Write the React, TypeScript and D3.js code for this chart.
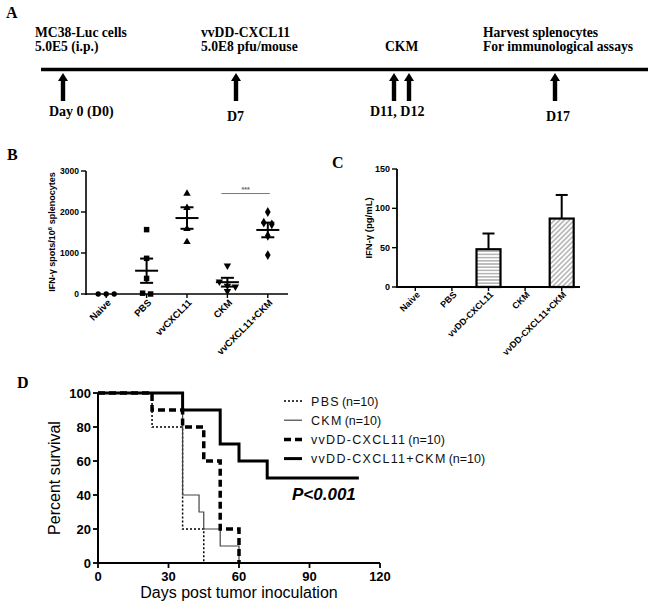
import React from "react";
import * as d3 from "d3";

const serif = "'Liberation Serif','Times New Roman',Times,serif";
const sans = "'Liberation Sans',Arial,Helvetica,sans-serif";

// ---------- Panel A: treatment timeline ----------
const timelineDays = [0, 7, 11, 12, 17];
const timelineTopText = [
  ["MC38-Luc cells", "5.0E5 (i.p.)"],
  ["vvDD-CXCL11", "5.0E8 pfu/mouse"],
  ["CKM"],
  ["Harvest splenocytes", "For immunological assays"],
];
const timelineDayLabels = ["Day 0 (D0)", "D7", "D11, D12", "D17"];

// ---------- Panel B: ELISpot ----------
const bCategories = ["Naive", "PBS", "vvCXCL11", "CKM", "vvCXCL11+CKM"];
const bNaive = [0, 0, 0];
const bPBS = [1570, 870, 380, 20, 0];
const bVvCXCL11 = [2450, 2100, 1590, 1270];
const bCKM = [690, 300, 200, 180, 70];
const bVvCKM = [2000, 1740, 1700, 1420, 950];
const bTicks = [0, 1000, 2000, 3000];
const bSigFrom = "CKM";
const bSigTo = "vvCXCL11+CKM";
const bSigLevel = 2450;
const bSigLabel = "***";

// ---------- Panel C: IFN-gamma ELISA ----------
const cCategories = ["Naive", "PBS", "vvDD-CXCL11", "CKM", "vvDD-CXCL11+CKM"];
const cMeans = [0, 0, 48, 0, 87];
const cErrors = [0, 0, 20, 0, 30];
const cTicks = [0, 50, 100, 150];

// ---------- Panel D: survival ----------
const dPBSDays = [0, 23, 36, 45];
const dPBSSurv = [100, 80, 20, 0];
const dCKMDays = [0, 36, 43, 45, 52, 60];
const dCKMSurv = [100, 40, 30, 20, 10, 0];
const dVvDays = [0, 23, 36, 45, 52, 60];
const dVvSurv = [100, 90, 80, 60, 20, 0];
const dVvCKMDays = [0, 36, 52, 60, 72, 111];
const dVvCKMSurv = [100, 90, 70, 60, 50, 50];
const dXTicks = [0, 30, 60, 90, 120];
const dYTicks = [0, 20, 40, 60, 80, 100];
const dLegendNames = ["PBS", "CKM", "vvDD-CXCL11", "vvDD-CXCL11+CKM"];
const dLegendN = ["(n=10)", "(n=10)", "(n=10)", "(n=10)"];
const dPValue = "P<0.001";

// ---------- layout ----------
const A = {
  lineX0: 41,
  lineY: 69.5,
  arrowX: [63, 236, 394, 409, 555],
  arrowTip: 73,
  arrowBottom: 101,
  topX: [35, 201, 385, 483],
  topY: [36.5, 50.5],
  ckmY: 51,
  dayX: [49, 227, 370, 546],
  dayY: [115.5, 121, 115.5, 120.5],
};

function jitterOffsets(values: number[], y: (v: number) => number, thr: number, step: number) {
  const idx = values.map((v, i) => i).sort((a, b) => values[b] - values[a]);
  const off = new Array(values.length).fill(0);
  let cluster: number[] = [];
  const flush = () => {
    cluster.forEach((id, k) => (off[id] = (k - (cluster.length - 1) / 2) * step));
    cluster = [];
  };
  idx.forEach((id) => {
    if (cluster.length && Math.abs(y(values[id]) - y(values[cluster[cluster.length - 1]])) > thr) flush();
    cluster.push(id);
  });
  flush();
  return off;
}

function PanelA() {
  const arrows = timelineDays.map((d, i) => ({ d, x: A.arrowX[i] }));
  return (
    <g>
      <text x={6} y={18} fontFamily={serif} fontWeight="bold" fontSize={16}>A</text>
      {timelineTopText.map((lines, i) =>
        lines.map((t, j) => (
          <text key={i + "-" + j} x={A.topX[i]} y={lines.length === 1 ? A.ckmY : A.topY[j]}
            fontFamily={serif} fontWeight="bold" fontSize={13.6}>{t}</text>
        ))
      )}
      <line x1={A.lineX0} x2={648} y1={A.lineY} y2={A.lineY} stroke="#000" strokeWidth={3.5} />
      {arrows.map((a) => (
        <g key={a.d}>
          <rect x={a.x - 2.2} y={A.arrowTip + 6} width={4.4} height={A.arrowBottom - A.arrowTip - 6} fill="#000" />
          <path d={`M${a.x - 5},${A.arrowTip + 8}L${a.x + 5},${A.arrowTip + 8}L${a.x},${A.arrowTip}Z`} fill="#000" />
        </g>
      ))}
      {timelineDayLabels.map((t, i) => (
        <text key={t} x={A.dayX[i]} y={A.dayY[i]} fontFamily={serif} fontWeight="bold" fontSize={14}>{t}</text>
      ))}
    </g>
  );
}

function PanelB() {
  const x = d3.scaleBand<string>().domain(bCategories).range([86, 288]);
  const y = d3.scaleLinear().domain([0, 3000]).range([294, 171]);
  const groups = [bNaive, bPBS, bVvCXCL11, bCKM, bVvCKM];
  const shapes = [d3.symbolCircle, d3.symbolSquare, d3.symbolTriangle, d3.symbolTriangle, d3.symbolDiamond];
  const sizes = [22, 30, 24, 24, 28];
  const cx = (c: string) => (x(c) as number) + x.bandwidth() / 2;
  return (
    <g fontFamily={sans} fontWeight="bold">
      <text x={7} y={160} fontFamily={serif} fontWeight="bold" fontSize={16}>B</text>
      <line x1={86} x2={86} y1={y(3000)} y2={295} stroke="#000" strokeWidth={1.6} />
      <line x1={86} x2={288} y1={294} y2={294} stroke="#000" strokeWidth={1.6} />
      {bTicks.map((t) => (
        <g key={t}>
          <line x1={81} x2={86} y1={y(t)} y2={y(t)} stroke="#000" strokeWidth={1.4} />
          <text x={79} y={y(t)} dy="0.35em" textAnchor="end" fontSize={8.5}>{t}</text>
        </g>
      ))}
      {bCategories.map((c) => (
        <g key={c}>
          <line x1={cx(c)} x2={cx(c)} y1={294} y2={298} stroke="#000" strokeWidth={1.4} />
          <text transform={`translate(${cx(c) + 3},${301}) rotate(-45)`} textAnchor="end" dy="0.35em" fontSize={9.5}>{c}</text>
        </g>
      ))}
      <text transform={`translate(55,232) rotate(-90)`} textAnchor="middle" fontSize={9}>
        IFN-γ spots/10<tspan dy={-3} fontSize={6}>6</tspan><tspan dy={3}> splenocytes</tspan>
      </text>
      {groups.map((vals, gi) => {
        const c = bCategories[gi];
        const mx = cx(c);
        const off = jitterOffsets(vals, y, 4.2, 8);
        const mean = d3.mean(vals) as number;
        const sem = vals.length > 1 ? (d3.deviation(vals) as number) / Math.sqrt(vals.length) : 0;
        const sym = d3.symbol().type(shapes[gi]).size(sizes[gi]);
        return (
          <g key={c}>
            {vals.map((v, i) => (
              <path key={i} d={sym() as string}
                transform={`translate(${mx + off[i]},${y(v)})${gi === 3 ? " rotate(180)" : ""}`} fill="#000" />
            ))}
            {sem > 0 && (
              <g stroke="#000" strokeWidth={2}>
                <line x1={mx - 11.5} x2={mx + 11.5} y1={y(mean)} y2={y(mean)} />
                <line x1={mx} x2={mx} y1={y(mean - sem)} y2={y(mean + sem)} />
                <line x1={mx - 6.5} x2={mx + 6.5} y1={y(mean - sem)} y2={y(mean - sem)} />
                <line x1={mx - 6.5} x2={mx + 6.5} y1={y(mean + sem)} y2={y(mean + sem)} />
              </g>
            )}
          </g>
        );
      })}
      <line x1={cx(bSigFrom) - 6} x2={cx(bSigTo) + 2} y1={y(bSigLevel)} y2={y(bSigLevel)} stroke="#777" strokeWidth={1} />
      <text x={(cx(bSigFrom) + cx(bSigTo)) / 2 - 2} y={y(bSigLevel) - 2} textAnchor="middle" fontSize={7} fill="#666">{bSigLabel}</text>
    </g>
  );
}

function PanelC() {
  const x = d3.scaleBand<string>().domain(cCategories).range([397, 580]);
  const y = d3.scaleLinear().domain([0, 150]).range([287, 169]);
  const cx = (c: string) => (x(c) as number) + x.bandwidth() / 2;
  const fills = ["url(#hatchH)", "url(#hatchH)", "url(#hatchH)", "url(#hatchD)", "url(#hatchD)"];
  return (
    <g fontFamily={sans} fontWeight="bold">
      <defs>
        <pattern id="hatchH" width={4} height={3.2} patternUnits="userSpaceOnUse">
          <rect width={4} height={3.2} fill="#fff" />
          <line x1={0} x2={4} y1={1.6} y2={1.6} stroke="#888" strokeWidth={1} />
        </pattern>
        <pattern id="hatchD" width={3.5} height={3.5} patternUnits="userSpaceOnUse" patternTransform="rotate(45)">
          <rect width={3.5} height={3.5} fill="#fff" />
          <line x1={1.75} x2={1.75} y1={0} y2={3.5} stroke="#888" strokeWidth={1} />
        </pattern>
      </defs>
      <text x={332} y={168} fontFamily={serif} fontWeight="bold" fontSize={16}>C</text>
      {cCategories.map((c, i) => {
        if (cMeans[i] <= 0) return null;
        const m = cx(c);
        return (
          <g key={c}>
            <line x1={m} x2={m} y1={y(cMeans[i])} y2={y(cMeans[i] + cErrors[i])} stroke="#000" strokeWidth={2} />
            <line x1={m - 6} x2={m + 6} y1={y(cMeans[i] + cErrors[i])} y2={y(cMeans[i] + cErrors[i])} stroke="#000" strokeWidth={2} />
            <rect x={m - 12} y={y(cMeans[i])} width={24} height={287 - y(cMeans[i])} fill={fills[i]} stroke="#000" strokeWidth={2.2} />
          </g>
        );
      })}
      <line x1={397} x2={397} y1={y(150)} y2={288} stroke="#000" strokeWidth={1.8} />
      <line x1={397} x2={580} y1={287} y2={287} stroke="#000" strokeWidth={1.8} />
      {cTicks.map((t) => (
        <g key={t}>
          <line x1={392} x2={397} y1={y(t)} y2={y(t)} stroke="#000" strokeWidth={1.4} />
          <text x={390} y={y(t)} dy="0.35em" textAnchor="end" fontSize={9}>{t}</text>
        </g>
      ))}
      {cCategories.map((c) => (
        <g key={c}>
          <line x1={cx(c)} x2={cx(c)} y1={287} y2={291} stroke="#000" strokeWidth={1.4} />
          <text transform={`translate(${cx(c) + 3},${293}) rotate(-45)`} textAnchor="end" dy="0.35em" fontSize={9}>{c}</text>
        </g>
      ))}
      <text transform={`translate(372,228) rotate(-90)`} textAnchor="middle" fontSize={9.5}>IFN-γ (pg/mL)</text>
    </g>
  );
}

function PanelD() {
  const x = d3.scaleLinear().domain([0, 120]).range([98, 380]);
  const y = d3.scaleLinear().domain([0, 100]).range([563, 393]);
  const step = d3.line<[number, number]>().x((d) => x(d[0])).y((d) => y(d[1])).curve(d3.curveStepAfter);
  const pts = (days: number[], surv: number[]) => days.map((d, i) => [d, surv[i]] as [number, number]);
  const styles = [
    { stroke: "#000", w: 1.5, dash: "2,2" },
    { stroke: "#444", w: 1.2, dash: null },
    { stroke: "#000", w: 3.5, dash: "7,4" },
    { stroke: "#000", w: 3, dash: null },
  ];
  const series = [pts(dPBSDays, dPBSSurv), pts(dCKMDays, dCKMSurv), pts(dVvDays, dVvSurv), pts(dVvCKMDays, dVvCKMSurv)];
  return (
    <g fontFamily={sans}>
      <text x={17} y={388} fontFamily={serif} fontWeight="bold" fontSize={16}>D</text>
      {series.map((s, i) => (
        <path key={i} d={step(s) as string} fill="none" stroke={styles[i].stroke} strokeWidth={styles[i].w}
          strokeDasharray={styles[i].dash || undefined} />
      ))}
      <line x1={98} x2={98} y1={y(100)} y2={564} stroke="#000" strokeWidth={2} />
      <line x1={97} x2={380} y1={563} y2={563} stroke="#000" strokeWidth={2} />
      {dYTicks.map((t) => (
        <g key={t}>
          <line x1={93} x2={98} y1={y(t)} y2={y(t)} stroke="#000" strokeWidth={1.8} />
          <text x={91} y={y(t)} dy="0.35em" textAnchor="end" fontSize={13} fontWeight="bold">{t}</text>
        </g>
      ))}
      {dXTicks.map((t) => (
        <g key={t}>
          <line x1={x(t)} x2={x(t)} y1={563} y2={568} stroke="#000" strokeWidth={1.8} />
          <text x={x(t)} y={581} textAnchor="middle" fontSize={13} fontWeight="bold">{t}</text>
        </g>
      ))}
      <text x={239} y={598} textAnchor="middle" fontSize={16}>Days post tumor inoculation</text>
      <text transform="translate(60,478) rotate(-90)" textAnchor="middle" fontSize={16}>Percent survival</text>
      {dLegendNames.map((n, i) => {
        const ly = 401 + i * 19.2;
        return (
          <g key={n}>
            <line x1={284} x2={302} y1={ly} y2={ly} stroke={styles[i].stroke} strokeWidth={styles[i].w}
              strokeDasharray={styles[i].dash || undefined} />
            <text x={311} y={ly} dy="0.36em" fontSize={12.5} fill="#111">
              <tspan letterSpacing={1.3}>{n}</tspan>
              <tspan dx={2}>{dLegendN[i]}</tspan>
            </text>
          </g>
        );
      })}
      <text x={292} y={500} fontSize={17} fontWeight="bold" fontStyle="italic">{dPValue}</text>
    </g>
  );
}

export default function App() {
  return (
    <svg width={648} height={605} viewBox="0 0 648 605"
      style={{ position: "absolute", left: 0, top: 0, background: "#fff" }}>
      <rect width={648} height={605} fill="#fff" />
      <PanelA />
      <PanelB />
      <PanelC />
      <PanelD />
    </svg>
  );
}
